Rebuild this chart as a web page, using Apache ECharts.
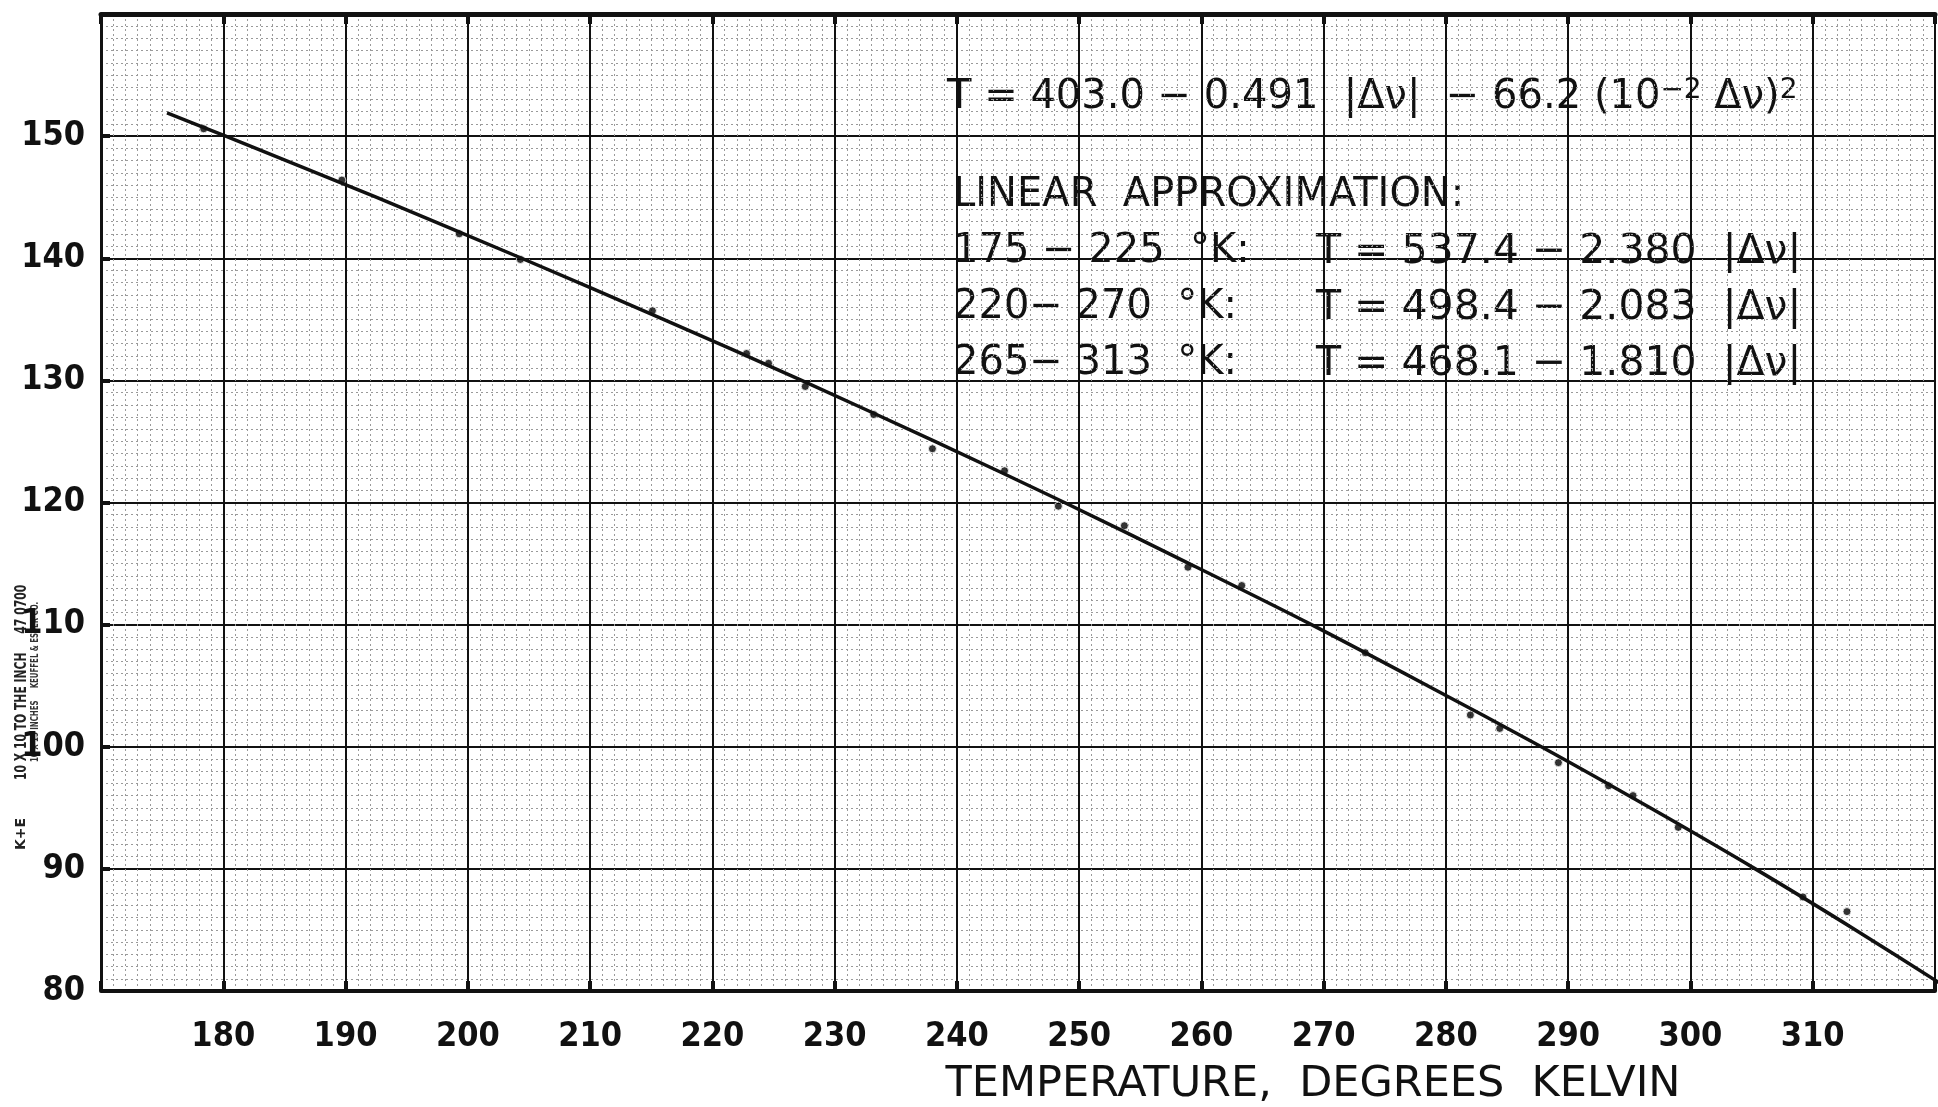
<!DOCTYPE html>
<html>
<head>
<meta charset="utf-8">
<title>Temperature vs |Δν|</title>
<script src="https://cdn.jsdelivr.net/npm/echarts@6/dist/echarts.min.js"></script>
<style>
  html, body { margin: 0; padding: 0; background: #fff; }
  #chart { width: 1938px; height: 1107px; }
</style>
</head>
<body>
<div id="chart"></div>
<script>
// tick labels that are printed on the sheet
var xTicks = [180, 190, 200, 210, 220, 230, 240, 250, 260, 270, 280, 290, 300, 310];
var yTicks = [80, 90, 100, 110, 120, 130, 140, 150];

// measured points: temperature (K) and |Δν|
var pointT = [178.4, 189.7, 199.3, 204.3, 215.1, 222.8, 224.6, 227.6, 233.2, 238.0, 243.9, 248.3,
              253.7, 258.9, 263.3, 273.4, 282.0, 284.4, 289.2, 293.3, 295.3, 299.0, 309.2, 312.8];
var pointShift = [150.6, 146.4, 142.0, 139.9, 135.7, 132.2, 131.4, 129.5, 127.2, 124.4, 122.6, 119.7,
                  118.1, 114.7, 113.2, 107.7, 102.6, 101.5, 98.7, 96.8, 96.0, 93.4, 87.7, 86.5];

// drawn fit curve, read at its crossings of the |Δν| grid
var curveT = [175.4, 180.2, 192.5, 204.4, 216.0, 227.3, 238.2, 248.8, 259.0, 269.0, 278.5, 287.8, 296.7, 305.3, 313.5, 321.4];
var curveShift = [151.9, 150, 145, 140, 135, 130, 125, 120, 115, 110, 105, 100, 95, 90, 85, 80];

// lettering on the sheet
var fitLine = 'T = 403.0 − 0.491  |Δν|  − 66.2 (10{sup|−2} Δν){sup|2}';
var approxTitle = 'LINEAR  APPROXIMATION:';
var approxRanges = ['175 − 225  °K:', '220− 270  °K:', '265− 313  °K:'];
var approxFits = ['T = 537.4 − 2.380  |Δν|', 'T = 498.4 − 2.083  |Δν|', 'T = 468.1 − 1.810  |Δν|'];
var xName = 'TEMPERATURE,  DEGREES  KELVIN';
var paperNote = ['10 X 10 TO THE INCH     47 0700', '10 X 15 INCHES     KEUFFEL & ESSER CO.'];

function zip(a, b){
  var out = [];
  for(var i = 0; i < a.length; i++){
    out.push([a[i], b[i]]);
  }
  return out;
}

var font = 'DejaVu Sans';
var tickFont = '"DejaVu Sans Condensed", "DejaVu Sans"';
var chart = echarts.init(document.getElementById('chart'));

/*
 * graph paper: heavy lines every 10, dotted lines every 1
 */
var minorGrid = { show: true, lineStyle: { color: '#9a9a9a', width: 1, type: [2, 3] } };
var majorGrid = { show: true, lineStyle: { color: '#111', width: 2 } };

var texts = [
  { type: 'text', x: 947, y: 98, style: {
      text: fitLine, fill: '#111', fontFamily: font, fontSize: 40, verticalAlign: 'middle',
      rich: { sup: { fontFamily: font, fontSize: 28, verticalAlign: 'top', padding: [0, 0, 14, 0] } }
  } },
  { type: 'text', x: 953, y: 196, style: {
      text: approxTitle, fill: '#111', fontFamily: font, fontSize: 40, verticalAlign: 'middle'
  } }
];
var rowY = [252, 308, 364];
for(var i = 0; i < approxRanges.length; i++){
  texts.push({ type: 'text', x: 953, y: rowY[i], style: {
    text: approxRanges[i], fill: '#111', fontFamily: font, fontSize: 40, verticalAlign: 'middle'
  } });
  texts.push({ type: 'text', x: 1316, y: rowY[i], style: {
    text: approxFits[i], fill: '#111', fontFamily: font, fontSize: 41, verticalAlign: 'middle'
  } });
}
// axis title sits right of centre on the sheet
texts.push({ type: 'text', x: 1313, y: 1085, style: {
  text: xName, fill: '#111', fontFamily: font, fontSize: 43, align: 'center', verticalAlign: 'middle'
} });
// maker's imprint down the left margin
texts.push({ type: 'text', x: 22, y: 780, rotation: Math.PI / 2, scaleX: 0.72, style: {
  text: paperNote[0], fill: '#222', fontFamily: font, fontSize: 15, fontWeight: 'bold', verticalAlign: 'middle'
} });
texts.push({ type: 'text', x: 35, y: 762, rotation: Math.PI / 2, scaleX: 0.7, style: {
  text: paperNote[1], fill: '#333', fontFamily: font, fontSize: 10, fontWeight: 'bold', verticalAlign: 'middle'
} });
texts.push({ type: 'text', x: 21, y: 850, rotation: Math.PI / 2, style: {
  text: 'K+E', fill: '#222', fontFamily: font, fontSize: 14, fontWeight: 'bold', verticalAlign: 'middle'
} });

chart.setOption({
  backgroundColor: '#fff',
  animation: false,
  grid: { left: 101, right: -8, top: 14, bottom: 116 },
  xAxis: [
    {
      type: 'value', min: 170, max: 320, interval: 10,
      axisLine: { lineStyle: { color: '#111', width: 4 } },
      axisTick: { inside: true, length: 10, lineStyle: { color: '#111', width: 4 } },
      axisLabel: {
        margin: 29, color: '#111', fontFamily: tickFont, fontSize: 34, fontWeight: 'bold',
        formatter: function(v){ return xTicks.indexOf(v) >= 0 ? String(v) : ''; }
      },
      splitLine: majorGrid,
      minorTick: { show: false, splitNumber: 10 },
      minorSplitLine: minorGrid
    },
    {
      type: 'value', position: 'top', min: 170, max: 320, interval: 10,
      axisLine: { lineStyle: { color: '#111', width: 5 } },
      axisTick: { inside: true, length: 10, lineStyle: { color: '#111', width: 4 } },
      axisLabel: { show: false },
      splitLine: { show: false }
    }
  ],
  yAxis: {
    type: 'value', min: 80, max: 160, interval: 10,
    axisLine: { show: true, lineStyle: { color: '#111', width: 3 } },
    axisTick: { show: true, inside: true, length: 9, lineStyle: { color: '#111', width: 4 } },
    axisLabel: {
      margin: 16, color: '#111', fontFamily: tickFont, fontSize: 34, fontWeight: 'bold',
      formatter: function(v){ return yTicks.indexOf(v) >= 0 ? String(v) : ''; }
    },
    splitLine: majorGrid,
    minorTick: { show: false, splitNumber: 10 },
    minorSplitLine: minorGrid
  },
  series: [
    {
      name: 'fit', type: 'line', data: zip(curveT, curveShift),
      smooth: 0.3, symbol: 'none',
      lineStyle: { color: '#111', width: 3.5 }
    },
    {
      name: 'measured', type: 'scatter', data: zip(pointT, pointShift),
      symbolSize: 8,
      itemStyle: { color: '#000', borderColor: '#fff', borderWidth: 1 }
    }
  ],
  graphic: texts
});
</script>
</body>
</html>
